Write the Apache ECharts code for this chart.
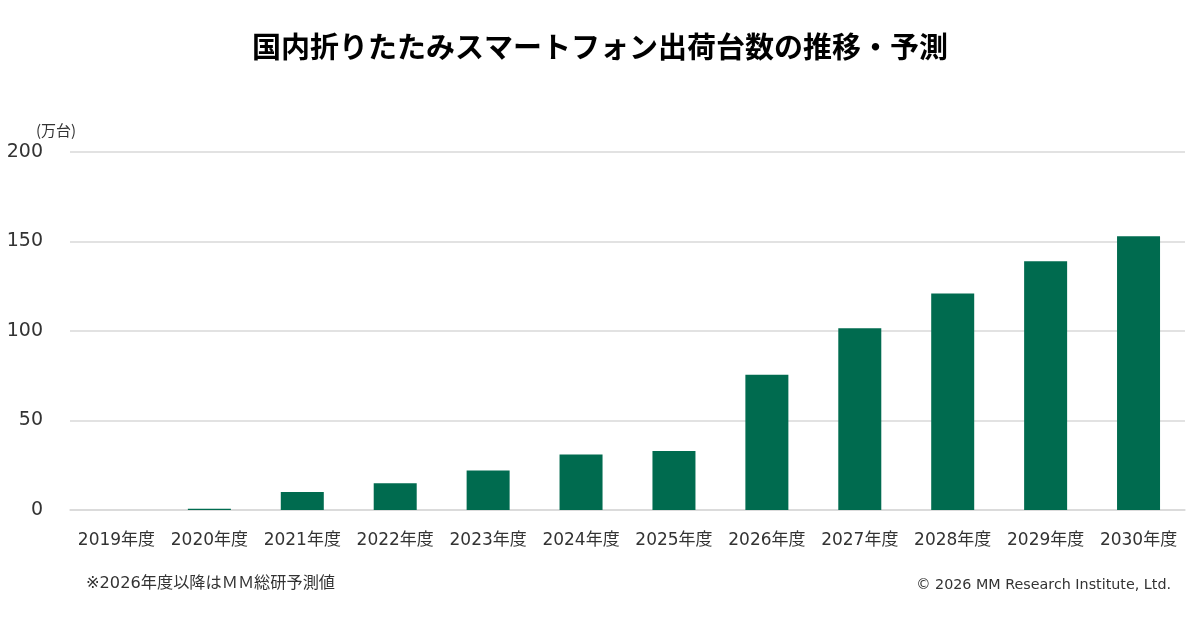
<!DOCTYPE html>
<html><head><meta charset="utf-8">
<script src="https://cdn.jsdelivr.net/npm/echarts@6/dist/echarts.min.js"></script>
<style>html,body{margin:0;padding:0;background:#fff}#c{width:1200px;height:630px}</style>
</head><body><div id="c"></div>
<script>
const categories = ['2019年度','2020年度','2021年度','2022年度','2023年度','2024年度','2025年度','2026年度','2027年度','2028年度','2029年度','2030年度'];
const shipments = [0, 0.7, 10, 15, 22, 31, 33, 75.5, 101.5, 121, 139, 153];
const yTicks = {min: 0, max: 200, interval: 50};
const FONT = "'DejaVu Sans','Noto Sans CJK JP',sans-serif";
const chart = echarts.init(document.getElementById('c'));
chart.setOption({
  backgroundColor: '#fff',
  animation: false,
  title: [
    {text: '国内折りたたみスマートフォン出荷台数の推移・予測', left: 'center', top: 27,
     textStyle: {fontFamily: "'Noto Sans CJK JP',sans-serif", fontWeight: 'bold', fontSize: 29, color: '#000'}},
    {text: '(万台)', left: 31, top: 118, textStyle: {fontFamily: "'Noto Sans CJK JP',sans-serif", fontWeight: 'normal', fontSize: 15, color: '#333'}},
    {text: '※2026年度以降はＭＭ総研予測値', left: 81, top: 571, textStyle: {fontFamily: FONT, fontWeight: 'normal', fontSize: 16.2, color: '#333'}},
    {text: '© 2026 MM Research Institute, Ltd.', right: 24, top: 573, textStyle: {fontFamily: FONT, fontWeight: 'normal', fontSize: 14.3, color: '#333'}}
  ],
  grid: {left: 70, right: 15, top: 152, bottom: 120, containLabel: false},
  xAxis: {
    type: 'category', data: categories,
    axisLine: {lineStyle: {color: '#d9d9d9', width: 1.5}},
    axisTick: {show: false},
    axisLabel: {fontFamily: FONT, fontSize: 17, color: '#333', margin: 22, interval: 0}
  },
  yAxis: {
    type: 'value', min: yTicks.min, max: yTicks.max, interval: yTicks.interval,
    axisLine: {show: false}, axisTick: {show: false},
    splitLine: {lineStyle: {color: '#d9d9d9', width: 1.5}},
    axisLabel: {fontFamily: FONT, fontSize: 19, color: '#333', margin: 27}
  },
  series: [{
    type: 'bar', data: shipments, barWidth: 43,
    itemStyle: {color: '#006b4f'}
  }]
});
</script></body></html>
